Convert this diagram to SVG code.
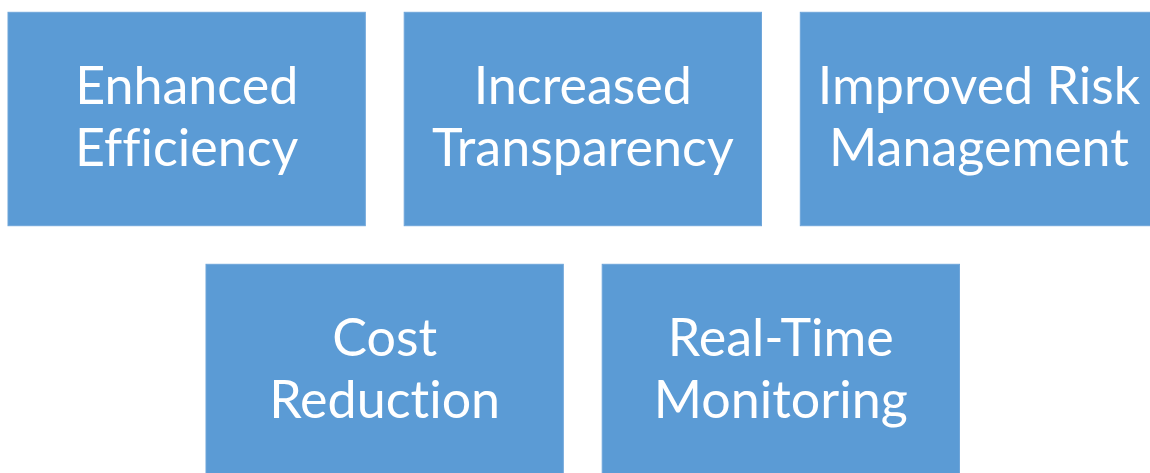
<svg xmlns="http://www.w3.org/2000/svg" width="1150" height="473" viewBox="0 0 1150 473">
<style>
.box{fill:#5B9BD5;stroke:#6FA6DA;stroke-width:1}
.lbl{font-family:Lato,"Open Sans","Liberation Sans",sans-serif;font-size:52px;fill:#FFFFFF;text-anchor:middle;font-variant-ligatures:none;font-feature-settings:"liga" 0,"dlig" 0}
</style>
<rect width="1150" height="473" fill="#FFFFFF"/>
<g id="connectors"></g>
<g id="n1"><rect class="box" x="8" y="12.3" width="357.3" height="213.4"/><text class="lbl" x="186.7"><tspan x="186.7" y="104.3">Enhanced</tspan><tspan x="186.7" y="165.7">Efficiency</tspan></text></g>
<g id="n2"><rect class="box" x="404.2" y="12.3" width="357.3" height="213.4"/><text class="lbl"><tspan x="582.8" y="104.3">Increased</tspan><tspan x="582.8" y="165.7">Transparency</tspan></text></g>
<g id="n3"><rect class="box" x="800.3" y="12.3" width="357.3" height="213.4"/><text class="lbl"><tspan x="979" y="104.3">Improved Risk</tspan><tspan x="979" y="165.7">Management</tspan></text></g>
<g id="n4"><rect class="box" x="206" y="264.3" width="357.3" height="213.4"/><text class="lbl"><tspan x="384.7" y="356">Cost</tspan><tspan x="384.7" y="417.7">Reduction</tspan></text></g>
<g id="n5"><rect class="box" x="602.2" y="264.3" width="357.3" height="213.4"/><text class="lbl"><tspan x="780.8" y="356">Real-Time</tspan><tspan x="780.8" y="417.7">Monitoring</tspan></text></g>
</svg>
